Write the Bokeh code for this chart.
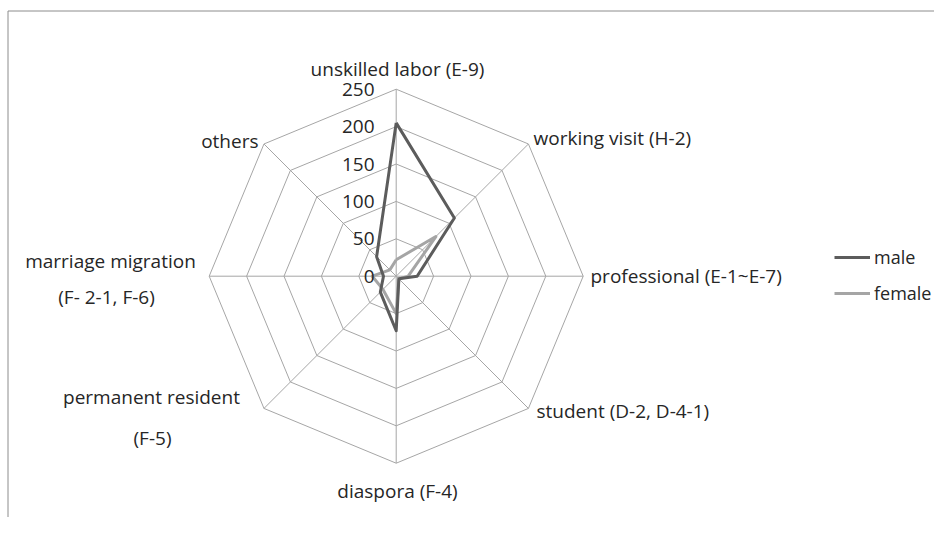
import math
from bokeh.plotting import figure
from bokeh.models import Range1d, Legend, LegendItem
from bokeh.core.properties import value
from bokeh.embed import file_html
from bokeh.resources import INLINE

# ---- data ----
categories = ["unskilled labor (E-9)", "working visit (H-2)", "professional (E-1~E-7)",
              "student (D-2, D-4-1)", "diaspora (F-4)", "permanent resident (F-5)",
              "marriage migration (F- 2-1, F-6)", "others"]
male = [205, 110, 28, 5, 73, 30, 17, 37]
female = [22, 75, 16, 5, 50, 25, 32, 12]
ticks = [0, 50, 100, 150, 200, 250]
max_val = 250

# ---- layout (screen px of the 950x533 picture) ----
H = 533
CX, CY = 395.7, 275.7
R = 187.0
FONT = "Open Sans"
TXT = "#262626"
FS = "19px"

def to_xy(vals):
    xs, ys = [], []
    n = len(categories)
    for i, v in enumerate(vals):
        th = math.radians(90 - i * 360.0 / n)
        r = R * v / max_val
        xs.append(CX + r * math.cos(th))
        ys.append((H - CY) + r * math.sin(th))
    xs.append(xs[0]); ys.append(ys[0])
    return xs, ys

p = figure(width=934, height=517, x_range=Range1d(0, 934), y_range=Range1d(16, 533),
           output_backend="svg", toolbar_location=None, min_border=0)
p.axis.visible = False
p.grid.visible = False
p.outline_line_color = None
p.background_fill_color = "white"
p.border_fill_color = "white"

# frame lines (partial border of the original image)
p.segment(x0=[7.5, 7.5], y0=[H - 10.5, H - 10.5], x1=[934, 7.5], y1=[H - 10.5, 16],
          line_color="#8c8c8c", line_width=1)

# rings
for t in ticks[1:]:
    xs, ys = to_xy([t] * len(categories))
    p.line(xs, ys, line_color="#a6a6a6", line_width=1)
# spokes
sx, sy = to_xy([max_val] * len(categories))
p.segment(x0=[CX] * len(categories), y0=[H - CY] * len(categories),
          x1=sx[:-1], y1=sy[:-1], line_color="#a6a6a6", line_width=1)

# series
mx, my = to_xy(male)
fx, fy = to_xy(female)
r_f = p.line(fx, fy, line_color="#a5a5a5", line_width=3, line_join="round")
r_m = p.line(mx, my, line_color="#5c5c5c", line_width=3, line_join="round")

# tick labels
tick_y = [(H - CY) + R * t / max_val for t in ticks]
p.text(x=[374] * len(ticks), y=tick_y, text=[str(t) for t in ticks],
       text_font=value(FONT), text_font_size=FS, text_color=TXT,
       text_align="right", text_baseline="middle")

# category labels
lab = [
    ("unskilled labor (E-9)", 397, 68, "center"),
    ("working visit (H-2)", 533, 137, "left"),
    ("professional (E-1~E-7)", 590, 275, "left"),
    ("student (D-2, D-4-1)", 536, 410, "left"),
    ("diaspora (F-4)", 397, 490, "center"),
    ("permanent resident", 151, 396, "center"),
    ("(F-5)", 152, 437, "center"),
    ("marriage migration", 110, 260, "center"),
    ("(F- 2-1, F-6)", 106, 296, "center"),
    ("others", 258, 140, "right"),
]
for t, x, y, a in lab:
    p.text(x=[x], y=[H - y], text=[t], text_font=value(FONT), text_font_size=FS,
           text_color=TXT, text_align=a, text_baseline="middle")

legend = Legend(items=[LegendItem(label="male", renderers=[r_m]),
                       LegendItem(label="female", renderers=[r_f])],
                location=(834, 212), orientation="vertical",
                glyph_width=36, glyph_height=20, label_height=20, spacing=12,
                label_standoff=4, padding=0, margin=0,
                border_line_color=None, background_fill_alpha=0,
                label_text_font=FONT, label_text_font_size="18px", label_text_color=TXT)
p.add_layout(legend, "center")

open("out.html", "w").write(file_html(p, INLINE))
